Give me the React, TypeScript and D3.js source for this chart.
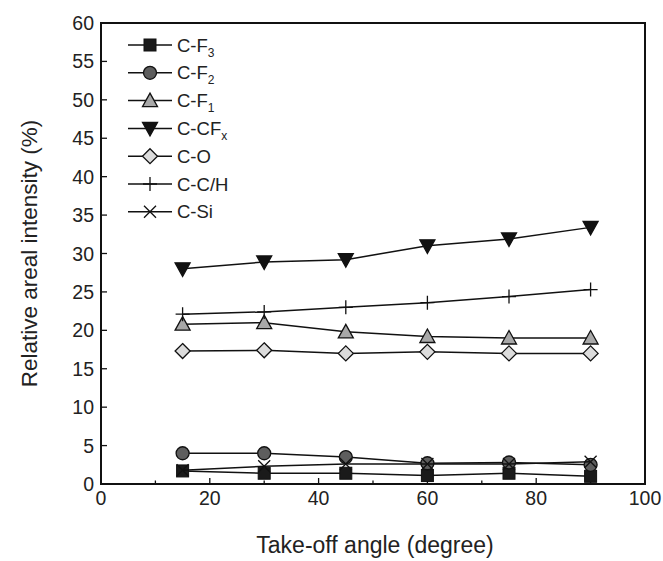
import React from "react";
import * as d3 from "d3";

const angles = [15, 30, 45, 60, 75, 90];
const cf3 = [1.7, 1.4, 1.4, 1.1, 1.4, 1.0];
const cf2 = [4.0, 4.0, 3.5, 2.7, 2.8, 2.5];
const cf1 = [20.8, 21.0, 19.8, 19.2, 19.0, 19.0];
const ccfx = [28.0, 28.9, 29.2, 31.0, 31.9, 33.4];
const co = [17.3, 17.4, 17.0, 17.2, 17.0, 17.0];
const cch = [22.1, 22.4, 23.0, 23.6, 24.4, 25.3];
const csi = [1.8, 2.3, 2.6, 2.6, 2.6, 2.9];

const xTicks = [0, 20, 40, 60, 80, 100];
const yTicks = [0, 5, 10, 15, 20, 25, 30, 35, 40, 45, 50, 55, 60];

type Marker = "square" | "circle" | "triUp" | "triDown" | "diamond" | "plus" | "cross";

const seriesList: { name: string; sub?: string; values: number[]; marker: Marker; fill: string }[] = [
  { name: "C-F", sub: "3", values: cf3, marker: "square", fill: "#1a1a1a" },
  { name: "C-F", sub: "2", values: cf2, marker: "circle", fill: "#5e5e5e" },
  { name: "C-F", sub: "1", values: cf1, marker: "triUp", fill: "#a8a8a8" },
  { name: "C-CF", sub: "x", values: ccfx, marker: "triDown", fill: "#111" },
  { name: "C-O", values: co, marker: "diamond", fill: "#dcdcdc" },
  { name: "C-C/H", values: cch, marker: "plus", fill: "none" },
  { name: "C-Si", values: csi, marker: "cross", fill: "none" },
];

const W = 663;
const H = 561;
const left = 101;
const right = 645;
const top = 23;
const bottom = 484;
const font = "'Liberation Sans', Arial, sans-serif";

function MarkerShape({ type, x, y, fill }: { type: Marker; x: number; y: number; fill: string }) {
  const s = "#111";
  switch (type) {
    case "square":
      return <rect x={x - 6} y={y - 6} width={12} height={12} fill={fill} stroke={s} strokeWidth={1} />;
    case "circle":
      return <circle cx={x} cy={y} r={6.5} fill={fill} stroke={s} strokeWidth={1.3} />;
    case "triUp":
      return <path d={`M${x},${y - 7.5}L${x + 7.5},${y + 6}L${x - 7.5},${y + 6}Z`} fill={fill} stroke={s} strokeWidth={1.3} />;
    case "triDown":
      return <path d={`M${x - 7.5},${y - 6}L${x + 7.5},${y - 6}L${x},${y + 7.5}Z`} fill={fill} stroke={s} strokeWidth={1.3} />;
    case "diamond":
      return <path d={`M${x},${y - 7.5}L${x + 7.5},${y}L${x},${y + 7.5}L${x - 7.5},${y}Z`} fill={fill} stroke={s} strokeWidth={1.3} />;
    case "plus":
      return <path d={`M${x - 7},${y}H${x + 7}M${x},${y - 7}V${y + 7}`} stroke={s} strokeWidth={1.3} fill="none" />;
    case "cross":
      return <path d={`M${x - 6},${y - 6}L${x + 6},${y + 6}M${x + 6},${y - 6}L${x - 6},${y + 6}`} stroke={s} strokeWidth={1.3} fill="none" />;
  }
}

export default function App() {
  const x = d3.scaleLinear().domain([0, 100]).range([left, right]);
  const y = d3.scaleLinear().domain([0, 60]).range([bottom, top]);
  const line = d3
    .line<number>()
    .x((_, i) => x(angles[i]))
    .y((v) => y(v));
  const minorX = d3.range(10, 100, 20);

  return (
    <svg width={W} height={H} style={{ position: "absolute", left: 0, top: 0, background: "#fff" }} fontFamily={font}>
      {/* axis ticks */}
      {xTicks.map((t) => (
        <line key={"xt" + t} x1={x(t)} x2={x(t)} y1={bottom} y2={bottom - 6} stroke="#111" strokeWidth={1.3} />
      ))}
      {minorX.map((t) => (
        <line key={"xm" + t} x1={x(t)} x2={x(t)} y1={bottom} y2={bottom - 3.5} stroke="#111" strokeWidth={1.3} />
      ))}
      {yTicks.map((t) => (
        <line key={"yt" + t} x1={left} x2={left + 6} y1={y(t)} y2={y(t)} stroke="#111" strokeWidth={1.3} />
      ))}
      {xTicks.map((t) => (
        <text key={"xl" + t} x={x(t)} y={bottom + 21} fontSize={19.5} textAnchor="middle" fill="#222">
          {t}
        </text>
      ))}
      {yTicks.map((t) => (
        <text key={"yl" + t} x={left - 7} y={y(t) + 7} fontSize={19.5} textAnchor="end" fill="#222">
          {t}
        </text>
      ))}
      <text x={375} y={553} fontSize={23} textAnchor="middle" fill="#222">
        Take-off angle (degree)
      </text>
      <text
        transform={`translate(37,${(top + bottom) / 2}) rotate(-90)`}
        fontSize={22.5}
        textAnchor="middle"
        fill="#222"
      >
        Relative areal intensity (%)
      </text>

      {/* data */}
      {seriesList.map((s) => (
        <g key={s.name + (s.sub || "")}>
          <path d={line(s.values) || ""} fill="none" stroke="#111" strokeWidth={1.5} />
          {s.values.map((v, i) => (
            <MarkerShape key={i} type={s.marker} x={x(angles[i])} y={y(v)} fill={s.fill} />
          ))}
        </g>
      ))}

      {/* legend */}
      {seriesList.map((s, i) => {
        const ly = 45 + i * 27.8;
        return (
          <g key={"lg" + i}>
            <line x1={128} x2={172} y1={ly} y2={ly} stroke="#111" strokeWidth={1.5} />
            <MarkerShape type={s.marker} x={150} y={ly} fill={s.fill} />
            <text x={177} y={ly + 6.5} fontSize={18.5} fill="#222">
              {s.name}
              {s.sub && (
                <tspan fontSize={12} dy={5}>
                  {s.sub}
                </tspan>
              )}
            </text>
          </g>
        );
      })}

      {/* frame */}
      <rect x={left} y={top} width={right - left} height={bottom - top} fill="none" stroke="#111" strokeWidth={2} />
    </svg>
  );
}
